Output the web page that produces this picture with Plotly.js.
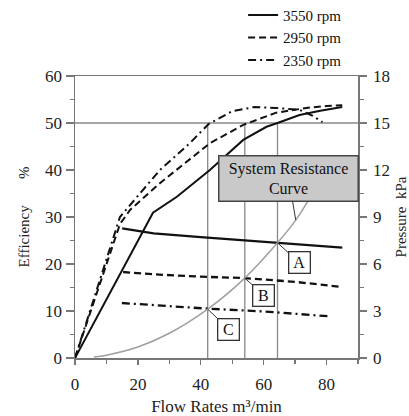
<!DOCTYPE html>
<html>
<head>
<meta charset="utf-8">
<script src="https://cdn.plot.ly/plotly-3.0.1.min.js"></script>
<style>html,body{margin:0;padding:0;background:#fff;}#chart{width:409px;height:416px;}</style>
</head>
<body>
<div id="chart"></div>
<script>
// Efficiency (%) vs flow rate (m3/min)
const seriesNames = ["3550 rpm", "2950 rpm", "2350 rpm"];
const effFlow3550 = [0, 24.8, 32.4, 42.9, 53.5, 60.9, 64.4, 71.4, 78, 85];
const eff3550     = [0, 30.9, 34.3, 40.0, 46.4, 49.2, 50.0, 51.7, 52.6, 53.4];
const effFlow2950 = [0, 14.3, 17.5, 27, 42.9, 53.5, 64, 68.3, 74.6, 80, 85];
const eff2950     = [0, 28.5, 31.5, 37.2, 45.7, 49.6, 52.2, 52.7, 53.3, 53.6, 53.8];
const effFlow2350 = [0, 14.3, 27, 36.5, 42.5, 50, 57, 64, 71.4, 75.6, 78.7];
const eff2350     = [0, 30.0, 40.0, 45.7, 49.8, 52.5, 53.4, 53.2, 52.8, 51.5, 50.2];

// Pressure (kPa) vs flow rate
const presFlow3550 = [15, 25, 40, 64.4, 85];
const pres3550     = [8.28, 7.95, 7.71, 7.35, 7.05];
const presFlow2950 = [15.3, 25, 40, 54, 70, 85];
const pres2950     = [5.49, 5.34, 5.19, 5.10, 4.86, 4.53];
const presFlow2350 = [14.9, 25, 42.2, 60, 80.3];
const pres2350     = [3.51, 3.36, 3.15, 2.97, 2.67];

// System resistance curve (kPa)
const sysFlow = [6, 10, 20, 30, 42.2, 54, 64.4, 70.2, 75.2];
const sysPres = [0.06, 0.18, 0.70, 1.58, 3.12, 5.10, 7.35, 8.80, 10.40];

// Operating points A, B, C
const opLabels = ["A", "B", "C"];
const opFlow   = [64.4, 54, 42.2];
const opPres   = [7.35, 5.10, 3.12];
const effRefLine = 50;

const serif = "Liberation Serif";
const ink = "#111";
const dashes = ["solid", "7px,4px", "8px,4px,2px,4px"];

const traces = [];
const effX = [effFlow3550, effFlow2950, effFlow2350];
const effY = [eff3550, eff2950, eff2350];
const prX = [presFlow3550, presFlow2950, presFlow2350];
const prY = [pres3550, pres2950, pres2350];
for (let i = 0; i < 3; i++) {
  traces.push({x: effX[i], y: effY[i], type: "scatter", mode: "lines", name: seriesNames[i],
    line: {color: ink, width: 2, dash: dashes[i]}, showlegend: true, yaxis: "y", legendgroup: "g" + i});
  traces.push({x: prX[i], y: prY[i], type: "scatter", mode: "lines", name: seriesNames[i],
    line: {color: ink, width: 2.3, dash: dashes[i]}, showlegend: false, yaxis: "y2", legendgroup: "g" + i});
}
traces.push({x: sysFlow, y: sysPres, type: "scatter", mode: "lines", name: "System Resistance Curve",
  line: {color: "#a0a0a0", width: 1.5, shape: "spline"}, showlegend: false, yaxis: "y2"});

const shapes = [
  {type: "line", xref: "paper", yref: "y", x0: 0, x1: 1, y0: effRefLine, y1: effRefLine,
   line: {color: "#888", width: 1.3}, layer: "below"}
];
opFlow.forEach(f => shapes.push({type: "line", xref: "x", yref: "y", x0: f, x1: f, y0: 0, y1: effRefLine,
  line: {color: "#888", width: 1.3}, layer: "below"}));

const annotations = [
  {x: 70.2, y: 8.8, xref: "x", yref: "y2", text: "System Resistance<br>Curve", showarrow: true,
   arrowhead: 0, arrowwidth: 1, arrowcolor: "#333", ax: -7, ay: -42, width: 136, height: 42,
   font: {family: serif, size: 16, color: "#111"}, bgcolor: "#c9c9c9", bordercolor: "#444",
   borderwidth: 1.5, borderpad: 1}
];
const offs = [[22, 20], [19, 17], [21, 20]];
opLabels.forEach((lab, i) => annotations.push({x: opFlow[i], y: opPres[i], xref: "x", yref: "y2",
  text: lab, showarrow: true, arrowhead: 0, arrowwidth: 1, arrowcolor: "#333",
  ax: offs[i][0], ay: offs[i][1], width: 18, height: 18, font: {family: serif, size: 16, color: "#111"},
  bgcolor: "#fff", bordercolor: "#333", borderwidth: 1.3, borderpad: 1}));

function axisBase() {
  return {showgrid: false, zeroline: false, showline: true, linecolor: "#777", linewidth: 1.5,
    tickcolor: "#777", tickwidth: 1.3, tickfont: {family: serif, size: 17, color: "#222"}};
}

const layout = {
  width: 409, height: 416,
  font: {family: serif, size: 16, color: "#222"},
  margin: {l: 75, r: 51, t: 76, b: 58, autoexpand: false},
  paper_bgcolor: "#fff", plot_bgcolor: "#fff",
  showlegend: true,
  legend: {x: 0.594, y: 1.274, xanchor: "left", yanchor: "top", bgcolor: "rgba(0,0,0,0)",
    font: {family: serif, size: 15, color: "#111"}, tracegroupgap: 0},
  xaxis: Object.assign(axisBase(), {range: [0, 90], dtick: 20, tick0: 0, ticks: "outside", ticklen: 5,
    ticklabelstandoff: 5,
    minor: {dtick: 10, ticks: "outside", ticklen: 4, tickcolor: "#777"},
    mirror: true,
    title: {text: "Flow Rates m\u00b3/min", font: {family: serif, size: 17, color: "#222"}, standoff: 8}}),
  yaxis: Object.assign(axisBase(), {range: [0, 60], dtick: 10, ticks: "outside", ticklen: 8,
    minor: {dtick: 5, ticks: "outside", ticklen: 4, tickcolor: "#777"},
    title: {text: "Efficiency\u00a0\u00a0\u00a0\u00a0\u00a0\u00a0\u00a0%", font: {family: serif, size: 15, color: "#222"}, standoff: 12}}),
  yaxis2: Object.assign(axisBase(), {range: [0, 18], dtick: 3, overlaying: "y", side: "right",
    ticks: "outside", ticklen: 7, ticklabelstandoff: 3,
    minor: {dtick: 1.5, ticks: "outside", ticklen: 4, tickcolor: "#777"},
    title: {text: "Pressure\u00a0\u00a0kPa", font: {family: serif, size: 15, color: "#222"}, standoff: 10}}),
  shapes: shapes,
  annotations: annotations
};

Plotly.newPlot("chart", traces, layout, {displayModeBar: false, staticPlot: true});
</script>
</body>
</html>
